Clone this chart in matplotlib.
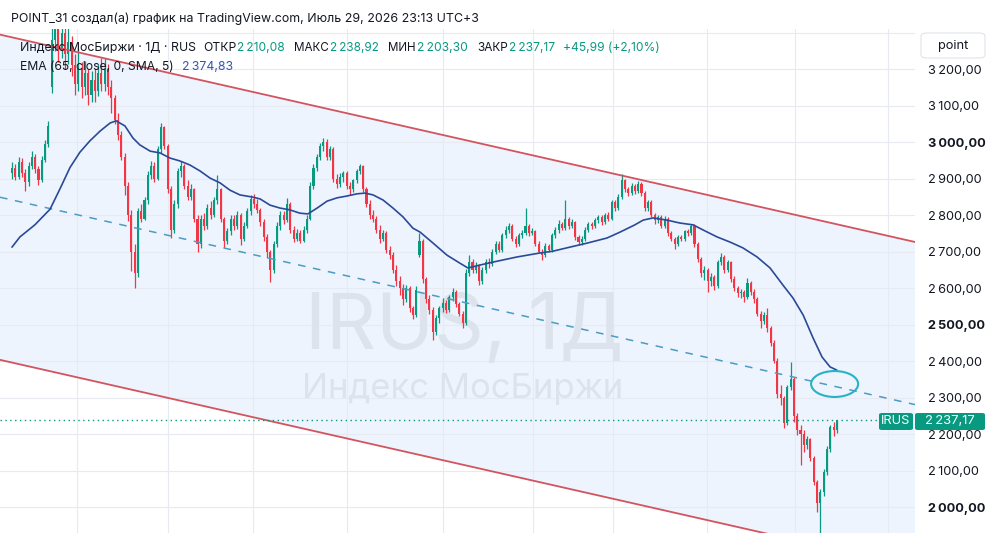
import matplotlib
matplotlib.use("Agg")
import matplotlib.pyplot as plt
from matplotlib.patches import Ellipse, FancyBboxPatch, Polygon
import numpy as np

plt.rcParams['font.family'] = ['Inter', 'DejaVu Sans']

# ---------------- data ----------------
opens = [2915, 2930, 2905, 2945, 2915, 2890, 2935, 2960, 2925, 2895,
         2950, 2995, 3150, 3280, 3310, 3250, 3300, 3240, 3275, 3210,
         3160, 3200, 3150, 3190, 3130, 3170, 3140, 3190, 3160, 3200,
         3150, 3120, 3060, 3020, 2960, 2880, 2800, 2700, 2640, 2810,
         2790, 2840, 2910, 2935, 2900, 2980, 3040, 2990, 2870, 2760,
         2830, 2920, 2935, 2880, 2850, 2870, 2790, 2720, 2790, 2770,
         2820, 2800, 2840, 2870, 2790, 2730, 2755, 2790, 2770, 2800,
         2735, 2770, 2810, 2845, 2830, 2815, 2780, 2740, 2700, 2650,
         2720, 2770, 2800, 2785, 2830, 2760, 2735, 2750, 2730, 2760,
         2790, 2880, 2930, 2960, 2990, 3000, 2960, 2980, 2900, 2885,
         2905, 2915, 2880, 2870, 2895, 2920, 2935, 2870, 2830, 2800,
         2790, 2760, 2735, 2750, 2705, 2690, 2650, 2620, 2600, 2570,
         2600, 2545, 2525, 2690, 2730, 2625, 2570, 2540, 2480, 2518,
         2545, 2560, 2540, 2575, 2590, 2555, 2530, 2505, 2640, 2670,
         2650, 2660, 2620, 2650, 2670, 2665, 2700, 2720, 2705, 2745,
         2760, 2770, 2735, 2720, 2745, 2750, 2770, 2750, 2755, 2720,
         2700, 2690, 2715, 2705, 2745, 2760, 2775, 2765, 2790, 2770,
         2780, 2740, 2725, 2735, 2760, 2775, 2770, 2785, 2795, 2780,
         2800, 2790, 2835, 2820, 2850, 2895, 2870, 2860, 2880, 2865,
         2885, 2860, 2820, 2835, 2800, 2785, 2795, 2770, 2790, 2750,
         2735, 2720, 2740, 2735, 2755, 2750, 2770, 2720, 2680, 2640,
         2650, 2620, 2630, 2605, 2670, 2685, 2650, 2670, 2625, 2600,
         2585, 2590, 2575, 2615, 2590, 2570, 2530, 2510, 2525, 2490,
         2450, 2400, 2310, 2300, 2230, 2330, 2350, 2250, 2210, 2200,
         2170, 2185, 2135, 2068, 2010, 2040, 2095, 2160, 2220, 2210.08]
highs = [2945, 2940, 2960, 2955, 2925, 2945, 2975, 2968, 2935, 2962,
         3005, 3058, 3330, 3345, 3330, 3350, 3320, 3330, 3290, 3240,
         3257, 3220, 3222, 3200, 3195, 3200, 3215, 3230, 3230, 3215,
         3170, 3130, 3080, 3030, 2970, 2890, 2815, 2720, 2820, 2830,
         2850, 2920, 2948, 2945, 2990, 3052, 3045, 2995, 2880, 2840,
         2930, 2948, 2940, 2895, 2885, 2875, 2800, 2800, 2805, 2830,
         2838, 2850, 2910, 2875, 2795, 2765, 2800, 2800, 2810, 2805,
         2780, 2820, 2855, 2858, 2845, 2820, 2790, 2748, 2705, 2728,
         2780, 2812, 2810, 2847, 2835, 2770, 2762, 2758, 2770, 2800,
         2890, 2940, 2968, 2998, 3012, 3008, 2990, 2985, 2912, 2915,
         2920, 2920, 2890, 2900, 2925, 2940, 2938, 2878, 2840, 2815,
         2798, 2772, 2760, 2755, 2715, 2700, 2662, 2632, 2612, 2608,
         2605, 2552, 2605, 2751, 2735, 2630, 2580, 2548, 2525, 2550,
         2572, 2568, 2582, 2600, 2595, 2562, 2538, 2652, 2690, 2680,
         2672, 2665, 2658, 2680, 2682, 2708, 2730, 2728, 2752, 2770,
         2778, 2775, 2742, 2752, 2758, 2819, 2775, 2764, 2760, 2728,
         2708, 2722, 2720, 2752, 2768, 2785, 2782, 2841, 2795, 2788,
         2784, 2746, 2742, 2768, 2782, 2780, 2792, 2800, 2800, 2806,
         2808, 2842, 2840, 2858, 2912, 2900, 2878, 2888, 2885, 2892,
         2890, 2865, 2842, 2840, 2806, 2800, 2800, 2797, 2794, 2756,
         2740, 2745, 2746, 2760, 2762, 2775, 2774, 2726, 2686, 2660,
         2655, 2640, 2636, 2678, 2696, 2690, 2678, 2675, 2632, 2606,
         2598, 2595, 2627, 2620, 2596, 2575, 2536, 2534, 2545, 2495,
         2458, 2408, 2334, 2305, 2335, 2397, 2355, 2258, 2225, 2210,
         2195, 2190, 2140, 2075, 2050, 2105, 2168, 2226, 2232, 2238.92]
lows = [2900, 2895, 2900, 2905, 2866, 2880, 2925, 2915, 2882, 2890,
        2945, 2985, 3135, 3250, 3220, 3230, 3200, 3215, 3180, 3130,
        3140, 3120, 3130, 3101, 3110, 3110, 3125, 3140, 3140, 3129,
        3080, 3050, 3005, 2950, 2855, 2784, 2647, 2600, 2630, 2780,
        2785, 2830, 2900, 2890, 2895, 2970, 2980, 2860, 2737, 2750,
        2820, 2905, 2870, 2840, 2840, 2780, 2700, 2710, 2760, 2762,
        2790, 2795, 2830, 2780, 2710, 2720, 2745, 2760, 2762, 2718,
        2728, 2765, 2800, 2820, 2805, 2770, 2730, 2682, 2616, 2640,
        2712, 2760, 2775, 2780, 2750, 2726, 2728, 2722, 2725, 2752,
        2785, 2870, 2920, 2950, 2975, 2950, 2952, 2890, 2874, 2878,
        2890, 2872, 2855, 2862, 2888, 2912, 2862, 2822, 2790, 2781,
        2750, 2722, 2728, 2695, 2680, 2640, 2605, 2581, 2553, 2562,
        2535, 2515, 2520, 2685, 2614, 2560, 2530, 2458, 2470, 2505,
        2535, 2532, 2535, 2565, 2548, 2522, 2490, 2500, 2632, 2640,
        2642, 2608, 2612, 2642, 2655, 2660, 2692, 2698, 2700, 2738,
        2752, 2728, 2712, 2715, 2738, 2745, 2742, 2744, 2715, 2695,
        2677, 2684, 2698, 2700, 2738, 2752, 2758, 2760, 2762, 2764,
        2732, 2718, 2719, 2730, 2754, 2762, 2765, 2778, 2772, 2775,
        2784, 2785, 2812, 2815, 2845, 2862, 2852, 2855, 2858, 2860,
        2852, 2810, 2812, 2795, 2775, 2778, 2764, 2765, 2742, 2728,
        2708, 2714, 2728, 2730, 2742, 2745, 2712, 2672, 2630, 2622,
        2590, 2605, 2594, 2600, 2662, 2640, 2644, 2616, 2592, 2576,
        2572, 2562, 2570, 2582, 2560, 2522, 2490, 2502, 2479, 2440,
        2395, 2299, 2279, 2216, 2225, 2320, 2233, 2197, 2115, 2151,
        2160, 2125, 2060, 1986, 1925, 2030, 2088, 2150, 2195, 2203.30]
closes = [2930, 2905, 2945, 2915, 2890, 2935, 2960, 2925, 2895, 2950,
          2995, 3045, 3280, 3310, 3250, 3300, 3240, 3275, 3210, 3160,
          3200, 3150, 3190, 3130, 3170, 3140, 3190, 3160, 3200, 3150,
          3120, 3060, 3020, 2960, 2880, 2800, 2700, 2640, 2810, 2790,
          2840, 2910, 2935, 2900, 2980, 3040, 2990, 2870, 2760, 2830,
          2920, 2935, 2880, 2850, 2870, 2790, 2720, 2790, 2770, 2820,
          2800, 2840, 2870, 2790, 2730, 2755, 2790, 2770, 2800, 2735,
          2770, 2810, 2845, 2830, 2815, 2780, 2740, 2700, 2650, 2720,
          2770, 2800, 2785, 2830, 2760, 2735, 2750, 2730, 2760, 2790,
          2880, 2930, 2960, 2990, 3000, 2960, 2980, 2900, 2885, 2905,
          2915, 2880, 2870, 2895, 2920, 2935, 2870, 2830, 2800, 2790,
          2760, 2735, 2750, 2705, 2690, 2650, 2620, 2600, 2570, 2600,
          2545, 2525, 2595, 2730, 2625, 2570, 2540, 2480, 2518, 2545,
          2560, 2540, 2575, 2590, 2555, 2530, 2505, 2640, 2670, 2650,
          2660, 2620, 2650, 2670, 2665, 2700, 2720, 2705, 2745, 2760,
          2770, 2735, 2720, 2745, 2750, 2770, 2750, 2755, 2720, 2700,
          2690, 2715, 2705, 2745, 2760, 2775, 2765, 2790, 2770, 2780,
          2740, 2725, 2735, 2760, 2775, 2770, 2785, 2795, 2780, 2800,
          2790, 2835, 2820, 2850, 2895, 2870, 2860, 2880, 2865, 2885,
          2860, 2820, 2835, 2800, 2785, 2795, 2770, 2790, 2750, 2735,
          2720, 2740, 2735, 2755, 2750, 2770, 2720, 2680, 2640, 2650,
          2620, 2630, 2605, 2670, 2685, 2650, 2670, 2625, 2600, 2585,
          2590, 2575, 2615, 2590, 2570, 2530, 2510, 2525, 2490, 2450,
          2400, 2310, 2300, 2230, 2330, 2350, 2250, 2210, 2200, 2170,
          2185, 2135, 2068, 2010, 2040, 2095, 2160, 2220, 2210, 2237.17]

ema_bar = [0, 2.4, 6.9, 11.5, 14.5, 17.5, 20.5, 23.5, 26.6, 29.6, 31.4, 34.1,
           36.5, 38.6, 41.7, 44.7, 47.7, 50.7, 53.7, 56.7, 59.8, 62.8, 65.8,
           68.8, 72.7, 74.9, 77.9, 80.9, 83.9, 86.9, 89.3, 92.1, 95.1, 98.1,
           101.1, 104.1, 106.6, 109, 112, 115, 118, 121, 123.2, 127.1, 131.3,
           135.2, 137.6, 141.3, 145.2, 152.4, 159.4, 163.3, 168.4, 173.6,
           179.6, 183.5, 188, 190.5, 193.5, 197.7, 201.6, 205.6, 208.6, 212.8,
           216.7, 220.6, 224.9, 228.8, 232.7, 235.7, 238.8, 241.8, 244.5,
           246.9, 249]
ema_val = [2712, 2740, 2773, 2816, 2872, 2930, 2972, 3003, 3030, 3052, 3058,
           3044, 3011, 2992, 2975, 2970, 2956, 2948, 2937, 2921, 2901, 2888,
           2868, 2855, 2849, 2844, 2827, 2819, 2814, 2805, 2803, 2819, 2838,
           2847, 2852, 2858, 2860, 2855, 2841, 2819, 2795, 2764, 2753, 2723,
           2690, 2668, 2655, 2663, 2671, 2685, 2696, 2701, 2712, 2723, 2737,
           2753, 2773, 2786, 2792, 2786, 2778, 2773, 2759, 2740, 2726, 2710,
           2685, 2655, 2608, 2573, 2526, 2463, 2411, 2384, 2374.83]

# parallel channel anchors (bar index, price)
chan_x = [-3.62, 272.56]
chan_upper = [3294.2, 2726.1]
chan_lower = [2403.2, 1835.1]
chan_mid = [2848.7, 2280.6]

month_lines = [19.6, 47.1, 72.7, 101.1, 130.1, 157.3, 181.4, 209.8, 236.3, 264.4]
price_ticks = [2000, 2100, 2200, 2300, 2400, 2500, 2600, 2700, 2800, 2900, 3000, 3100, 3200]
bold_ticks = [2000, 2500, 3000]

last_open, last_high, last_low, last_price = 2210.08, 2238.92, 2203.30, 2237.17
change, change_pct = 45.99, 2.10
ema_last = 2374.83

GREEN = '#089981'
RED = '#f23645'
DARK = '#131722'
EMA_COL = '#2a4a98'
CH_RED = '#d2545f'
MID_COL = '#4b9cc2'

W, H = 1000, 533
fig = plt.figure(figsize=(W / 100, H / 100), dpi=100)
ax = fig.add_axes([0, 0, 0.915, (H - 29) / H])
ax.set_xlim(-3.62, 272.56)
ax.set_ylim(1928.8, 3309.6)
for s in ax.spines.values():
    s.set_visible(False)
ax.set_facecolor('white')


def fmt(v):
    whole = int(v)
    cents = int(round((v - whole) * 100))
    if whole >= 1000:
        return f"{whole // 1000}\u2009{whole % 1000:03d},{cents:02d}"
    return f"{whole},{cents:02d}"


# channel fill and lines
poly = Polygon([(chan_x[0], chan_upper[0]), (chan_x[1], chan_upper[1]),
                (chan_x[1], chan_lower[1]), (chan_x[0], chan_lower[0])],
               closed=True, facecolor='#edf4fd', edgecolor='none', zorder=0.4)
ax.add_patch(poly)

# grid
for p in range(1900, 3400, 100):
    ax.axhline(p, color='#e7ebf1', lw=0.8, zorder=0.5)
for m in month_lines:
    ax.axvline(m, color='#e7ebf1', lw=0.8, zorder=0.5)

ax.plot(chan_x, chan_upper, color=CH_RED, lw=1.3, zorder=5)
ax.plot(chan_x, chan_lower, color=CH_RED, lw=1.3, zorder=5)
ax.plot(chan_x, chan_mid, color=MID_COL, lw=1.1, ls=(0, (5, 5)), zorder=5)

# watermark
ax.text(136.5, 2490, 'IRUS, 1Д', fontsize=56, color='#dde3ec', ha='center',
        va='center', zorder=0.7)
ax.text(136.0, 2323, 'Индекс МосБиржи', fontsize=25, color='#dde3ec', ha='center',
        va='center', zorder=0.7)

# candles
o = np.array(opens, float); c = np.array(closes, float)
hh = np.array(highs, float); ll = np.array(lows, float)
idx = np.arange(len(c))
cols = np.where(c >= o, GREEN, RED)
ax.vlines(idx, ll, hh, colors=cols, lw=0.9, zorder=3)
ax.bar(idx, np.maximum(np.abs(c - o), 2.0), bottom=np.minimum(o, c), width=0.62,
       color=cols, linewidth=0, zorder=4)

# EMA
ax.plot(ema_bar, ema_val, color=EMA_COL, lw=1.2, zorder=6, solid_capstyle='round')

# last price dotted line
x_lab = (879 - 12) / 3.313
ax.plot([-3.62, x_lab], [last_price, last_price], color=GREEN, lw=1.0,
        ls=(0, (1, 2.5)), zorder=5)

# ellipse
ax.add_patch(Ellipse((248.3, 2337), 14.2, 71, fill=False, edgecolor='#27b2c6',
                     lw=1.5, zorder=7))

# y axis on the right
ax.set_xticks([])
ax.yaxis.tick_right()
ax.set_yticks(price_ticks)
ax.set_yticklabels([fmt(p) for p in price_ticks])
ax.tick_params(axis='y', length=0, pad=9, labelsize=9.2, labelcolor=DARK)
for lab, p in zip(ax.get_yticklabels(), price_ticks):
    if p in bold_ticks:
        lab.set_fontweight('bold')

renderer = fig.canvas.get_renderer()


def put(x_px, base_px, s, width_px, color, weight='normal', size=10):
    t = fig.text(x_px / W, 1 - base_px / H, s, color=color, fontsize=size,
                 ha='left', va='baseline', fontweight=weight, zorder=20)
    bb = t.get_window_extent(renderer=renderer)
    t.set_fontsize(size * width_px / bb.width)
    return t


put(11, 22, 'POINT_31 создал(а) график на TradingView.com, Июль 29, 2026 23:13 UTC+3', 469, DARK)

leg1 = [(20, 'Индекс МосБиржи · 1Д · RUS', 176, DARK),
        (203, 'ОТКР', 33, DARK), (237, fmt(last_open), 48, GREEN),
        (294, 'МАКС', 35, DARK), (330, fmt(last_high), 49, GREEN),
        (388, 'МИН', 28, DARK), (417, fmt(last_low), 51, GREEN),
        (477, 'ЗАКР', 31, DARK), (509, fmt(last_price), 46, GREEN),
        (563, f"+{fmt(change)} (+{fmt(change_pct)}%)", 97, GREEN)]
for x0, s, w, col in leg1:
    put(x0, 51, s, w, col)
put(20, 70, 'EMA (65, close, 0, SMA, 5)', 155, DARK)
put(182, 70, fmt(ema_last), 51, '#2f55b8')

# "point" box
fig.patches.append(FancyBboxPatch((921 / W, 1 - 58 / H), 64 / W, 25 / H,
                                  boxstyle='round,pad=0,rounding_size=0.006',
                                  transform=fig.transFigure, facecolor='white',
                                  edgecolor='#e0e3eb', lw=0.8, zorder=10))
fig.text(953 / W, 1 - 45.5 / H, 'point', fontsize=9.2, color=DARK, ha='center',
         va='center', zorder=21)

# last price labels
y_lp = 421.5
fig.patches.append(FancyBboxPatch((879 / W, 1 - 430 / H), 34 / W, 17 / H,
                                  boxstyle='round,pad=0,rounding_size=0.003',
                                  transform=fig.transFigure, facecolor=GREEN,
                                  edgecolor='none', zorder=10))
fig.text(896 / W, 1 - y_lp / H, 'IRUS', fontsize=9.2, color='white', ha='center',
         va='center', zorder=21)
fig.patches.append(FancyBboxPatch((915 / W, 1 - 430 / H), 70 / W, 17 / H,
                                  boxstyle='round,pad=0,rounding_size=0.003',
                                  transform=fig.transFigure, facecolor=GREEN,
                                  edgecolor='none', zorder=10))
fig.text(950 / W, 1 - y_lp / H, fmt(last_price), fontsize=9.4, color='white',
         ha='center', va='center', zorder=21)

fig.savefig('out.png', dpi=100, facecolor='white')
